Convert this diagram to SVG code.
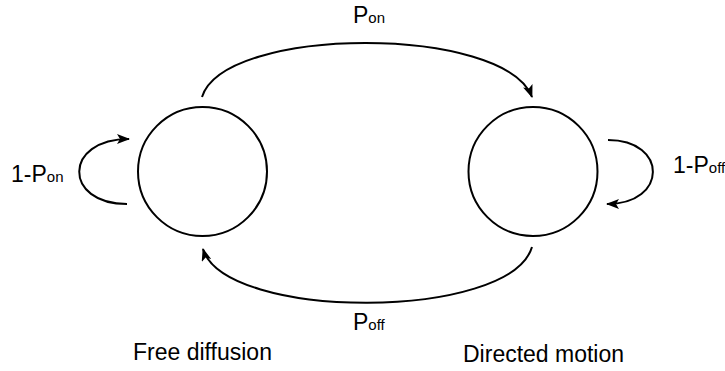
<svg xmlns="http://www.w3.org/2000/svg" width="725" height="371" viewBox="0 0 725 371">
<style>
.st{fill:none;stroke:#000;stroke-width:2}
.lbl{font-family:"Liberation Sans",Arial,sans-serif;font-size:23px;fill:#000}
.sub{font-size:15px}
</style>
<defs>
<marker id="ah" viewBox="0 0 13 10" refX="12" refY="5" markerWidth="13" markerHeight="10" markerUnits="userSpaceOnUse" orient="auto">
<path d="M0,0 L13,5 L0,10 L3,5 z" fill="#000"/>
</marker>
</defs>
<rect width="725" height="371" fill="#fff"/>
<g id="free">
<circle class="st" cx="202.5" cy="171.5" r="64.5"/>
<text class="lbl" x="133" y="360">Free diffusion</text>
</g>
<g id="directed">
<circle class="st" cx="533" cy="171.5" r="64.5"/>
<text class="lbl" x="463" y="362">Directed motion</text>
</g>
<g id="connectors">
<path class="st" d="M202,97 C225,25 505,25 532,97" marker-end="url(#ah)"/>
<path class="st" d="M532,247 C510,321 225,321 203,249" marker-end="url(#ah)"/>
<path class="st" d="M127,204 C63,204 63,139 129,139" marker-end="url(#ah)"/>
<path class="st" d="M608,140 C668,140 668,204 607,204" marker-end="url(#ah)"/>
<text class="lbl" x="353" y="23">P<tspan class="sub">on</tspan></text>
<text class="lbl" x="353" y="330">P<tspan class="sub">off</tspan></text>
<text class="lbl" x="11" y="182">1-P<tspan class="sub">on</tspan></text>
<text class="lbl" x="673" y="173">1-P<tspan class="sub">off</tspan></text>
</g>
</svg>
